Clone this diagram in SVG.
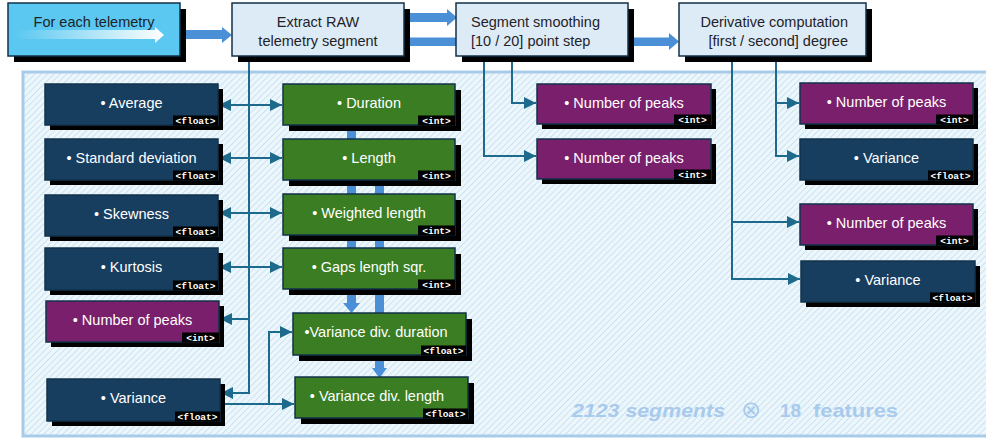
<svg xmlns="http://www.w3.org/2000/svg" width="986" height="438" viewBox="0 0 986 438">
<style>
.bx{stroke:#12324A;stroke-width:1.5}
.sh{fill:#000}
.top{fill:#DDEBF7}
.blue{fill:#173D5F}
.green{fill:#3A7D22}
.purple{fill:#7A1F6B}
.t{font-family:"Liberation Sans",Arial,sans-serif;font-size:14.5px;fill:#fff;text-anchor:middle}
.tt{font-family:"Liberation Sans",Arial,sans-serif;font-size:14.5px;fill:#1f2328}
.tag{fill:#000}
.tg{font-family:"Liberation Mono","DejaVu Sans Mono",monospace;font-size:9.5px;font-weight:bold;fill:#fff;text-anchor:middle}
.thin{fill:none;stroke:#1E6A8C;stroke-width:2}
.thick{fill:#4B8FD6}
.big{font-family:"Liberation Sans",Arial,sans-serif;font-size:19px;font-weight:bold;fill:#A8CAEC}
</style>
<defs>
<pattern id="hatch" patternUnits="userSpaceOnUse" width="4.5" height="4.5" patternTransform="rotate(45)">
<rect width="4.5" height="4.5" fill="#EDF6FB"/>
<line x1="0" y1="0" x2="0" y2="4.5" stroke="#C6E2F2" stroke-width="1.8"/>
</pattern>
<linearGradient id="wg" x1="0" y1="0" x2="1" y2="0">
<stop offset="0" stop-color="#fff" stop-opacity="0"/>
<stop offset="1" stop-color="#fff" stop-opacity="1"/>
</linearGradient>
<marker id="ah" markerUnits="userSpaceOnUse" markerWidth="13" markerHeight="13" refX="12" refY="6.5" orient="auto-start-reverse">
<path d="M0,0.5 L12,6.5 L0,12.5 z" fill="#1E6A8C"/>
</marker>
</defs>

<!-- panel -->
<rect x="23" y="72" width="975" height="364" fill="url(#hatch)" stroke="#A9CBEA" stroke-width="3"/>

<!-- connectors -->
<g id="connectors">
<path class="thick" d="M186,30 H222 V27 L232,35 L222,43 V39 H186 z"/>
<path class="thick" d="M404,13 H447 V9 L457,17.5 L447,26 V22 H404 z"/>
<path class="thick" d="M404,37.5 H669 V33 L679,41.5 L669,50 V46 H404 z"/>
<path class="thick" d="M347,125 H356 V303 H360 L351.5,313 L343,303 H347 z"/>
<path class="thick" d="M375,180 H384 V368 H387 L379.5,378 L372,368 H375 z"/>
<path class="thin" d="M249,57 V393 H221" marker-end="url(#ah)"/>
<line class="thin" x1="219" y1="105" x2="282" y2="105" marker-start="url(#ah)" marker-end="url(#ah)"/>
<line class="thin" x1="219" y1="158" x2="282" y2="158" marker-start="url(#ah)" marker-end="url(#ah)"/>
<line class="thin" x1="219" y1="213" x2="282" y2="213" marker-start="url(#ah)" marker-end="url(#ah)"/>
<line class="thin" x1="219" y1="267" x2="282" y2="267" marker-start="url(#ah)" marker-end="url(#ah)"/>
<path class="thin" d="M249,319 H220" marker-end="url(#ah)"/>
<path class="thin" d="M221,404 H294" marker-end="url(#ah)"/>
<path class="thin" d="M269,404 V332 H292" marker-end="url(#ah)"/>
<path class="thin" d="M512,57 V103 H536" marker-end="url(#ah)"/>
<path class="thin" d="M484,57 V156 H536" marker-end="url(#ah)"/>
<path class="thin" d="M776,57 V156 H799" marker-end="url(#ah)"/>
<path class="thin" d="M776,103 H799" marker-end="url(#ah)"/>
<path class="thin" d="M732,57 V279 H800" marker-end="url(#ah)"/>
<path class="thin" d="M732,222 H799" marker-end="url(#ah)"/>
</g>

<!-- top row -->
<g id="for-each">
<rect class="sh" x="14" y="9" width="172" height="53"/>
<rect class="bx" x="8" y="3" width="172" height="53" fill="#5AC8F0"/>
<path d="M15,30 H155 V27 L164,35 L155,43 V39 H15 z" fill="url(#wg)"/>
<text class="tt" x="94" y="27" text-anchor="middle">For each telemetry</text>
</g>
<g id="extract">
<rect class="sh" x="238" y="9" width="172" height="53"/>
<rect class="bx top" x="232" y="3" width="172" height="53"/>
<text class="tt" x="318" y="27" text-anchor="middle">Extract RAW</text>
<text class="tt" x="318" y="46" text-anchor="middle">telemetry segment</text>
</g>
<g id="smoothing">
<rect class="sh" x="462" y="9" width="172" height="53"/>
<rect class="bx top" x="456" y="3" width="172" height="53"/>
<text class="tt" x="471" y="27">Segment smoothing</text>
<text class="tt" x="471" y="46">[10 / 20] point step</text>
</g>
<g id="derivative">
<rect class="sh" x="685" y="9" width="187" height="53"/>
<rect class="bx top" x="679" y="3" width="187" height="53"/>
<text class="tt" x="848" y="27" text-anchor="end">Derivative computation</text>
<text class="tt" x="848" y="46" text-anchor="end">[first / second] degree</text>
</g>

<!-- left column -->
<g id="average">
<rect class="sh" x="50" y="89" width="173" height="41"/>
<rect class="bx blue" x="45" y="84" width="173" height="41"/>
<text class="t" x="131.5" y="108">• Average</text>
<rect class="tag" x="173" y="115.5" width="45" height="10"/>
<text class="tg" x="195.5" y="123.5">&lt;float&gt;</text>
</g>
<g id="stddev">
<rect class="sh" x="50" y="144" width="173" height="41"/>
<rect class="bx blue" x="45" y="139" width="173" height="41"/>
<text class="t" x="131.5" y="163">• Standard deviation</text>
<rect class="tag" x="173" y="170.5" width="45" height="10"/>
<text class="tg" x="195.5" y="178.5">&lt;float&gt;</text>
</g>
<g id="skewness">
<rect class="sh" x="50" y="200" width="173" height="41"/>
<rect class="bx blue" x="45" y="195" width="173" height="41"/>
<text class="t" x="131.5" y="219">• Skewness</text>
<rect class="tag" x="173" y="226.5" width="45" height="10"/>
<text class="tg" x="195.5" y="234.5">&lt;float&gt;</text>
</g>
<g id="kurtosis">
<rect class="sh" x="50" y="253" width="173" height="42"/>
<rect class="bx blue" x="45" y="248" width="173" height="42"/>
<text class="t" x="131.5" y="272">• Kurtosis</text>
<rect class="tag" x="173" y="280.5" width="45" height="10"/>
<text class="tg" x="195.5" y="288.5">&lt;float&gt;</text>
</g>
<g id="peaks-left">
<rect class="sh" x="51" y="306" width="173" height="41"/>
<rect class="bx purple" x="46" y="301" width="173" height="41"/>
<text class="t" x="132.5" y="325">• Number of peaks</text>
<rect class="tag" x="182" y="332.5" width="37" height="10"/>
<text class="tg" x="200.5" y="340.5">&lt;int&gt;</text>
</g>
<g id="variance-left">
<rect class="sh" x="52" y="384" width="173" height="42"/>
<rect class="bx blue" x="47" y="379" width="173" height="42"/>
<text class="t" x="133.5" y="403">• Variance</text>
<rect class="tag" x="175" y="411.5" width="45" height="10"/>
<text class="tg" x="197.5" y="419.5">&lt;float&gt;</text>
</g>

<!-- green column -->
<g id="duration">
<rect class="sh" x="289" y="90" width="172" height="41"/>
<rect class="bx green" x="283" y="84" width="172" height="41"/>
<text class="t" x="369" y="108">• Duration</text>
<rect class="tag" x="418" y="115.5" width="37" height="10"/>
<text class="tg" x="436.5" y="123.5">&lt;int&gt;</text>
</g>
<g id="length">
<rect class="sh" x="289" y="145" width="172" height="41"/>
<rect class="bx green" x="283" y="139" width="172" height="41"/>
<text class="t" x="369" y="163">• Length</text>
<rect class="tag" x="418" y="170.5" width="37" height="10"/>
<text class="tg" x="436.5" y="178.5">&lt;int&gt;</text>
</g>
<g id="weighted-length">
<rect class="sh" x="289" y="200" width="172" height="41"/>
<rect class="bx green" x="283" y="194" width="172" height="41"/>
<text class="t" x="369" y="218">• Weighted length</text>
<rect class="tag" x="418" y="225.5" width="37" height="10"/>
<text class="tg" x="436.5" y="233.5">&lt;int&gt;</text>
</g>
<g id="gaps">
<rect class="sh" x="289" y="254" width="172" height="41"/>
<rect class="bx green" x="283" y="248" width="172" height="41"/>
<text class="t" x="369" y="272">• Gaps length sqr.</text>
<rect class="tag" x="418" y="279.5" width="37" height="10"/>
<text class="tg" x="436.5" y="287.5">&lt;int&gt;</text>
</g>
<g id="var-div-duration">
<rect class="sh" x="299" y="319" width="173" height="42"/>
<rect class="bx green" x="293" y="313" width="173" height="42"/>
<text class="t" x="376" y="337">•Variance div. duration</text>
<rect class="tag" x="421" y="345.5" width="45" height="10"/>
<text class="tg" x="443.5" y="353.5">&lt;float&gt;</text>
</g>
<g id="var-div-length">
<rect class="sh" x="301" y="383" width="173" height="41"/>
<rect class="bx green" x="295" y="377" width="173" height="41"/>
<text class="t" x="377" y="401">• Variance div. length</text>
<rect class="tag" x="423" y="408.5" width="45" height="10"/>
<text class="tg" x="445.5" y="416.5">&lt;float&gt;</text>
</g>

<!-- middle purple -->
<g id="peaks-smooth-1">
<rect class="sh" x="542" y="89" width="174" height="40"/>
<rect class="bx purple" x="537" y="84" width="174" height="40"/>
<text class="t" x="624" y="108">• Number of peaks</text>
<rect class="tag" x="674" y="114.5" width="37" height="10"/>
<text class="tg" x="692.5" y="122.5">&lt;int&gt;</text>
</g>
<g id="peaks-smooth-2">
<rect class="sh" x="542" y="144" width="174" height="40"/>
<rect class="bx purple" x="537" y="139" width="174" height="40"/>
<text class="t" x="624" y="163">• Number of peaks</text>
<rect class="tag" x="674" y="169.5" width="37" height="10"/>
<text class="tg" x="692.5" y="177.5">&lt;int&gt;</text>
</g>

<!-- right column -->
<g id="peaks-deriv-1">
<rect class="sh" x="805" y="88" width="173" height="41"/>
<rect class="bx purple" x="800" y="83" width="173" height="41"/>
<text class="t" x="886.5" y="107">• Number of peaks</text>
<rect class="tag" x="936" y="114.5" width="37" height="10"/>
<text class="tg" x="954.5" y="122.5">&lt;int&gt;</text>
</g>
<g id="variance-deriv-1">
<rect class="sh" x="805" y="144" width="173" height="41"/>
<rect class="bx blue" x="800" y="139" width="173" height="41"/>
<text class="t" x="886.5" y="163">• Variance</text>
<rect class="tag" x="928" y="170.5" width="45" height="10"/>
<text class="tg" x="950.5" y="178.5">&lt;float&gt;</text>
</g>
<g id="peaks-deriv-2">
<rect class="sh" x="805" y="209" width="173" height="41"/>
<rect class="bx purple" x="800" y="204" width="173" height="41"/>
<text class="t" x="886.5" y="228">• Number of peaks</text>
<rect class="tag" x="936" y="235.5" width="37" height="10"/>
<text class="tg" x="954.5" y="243.5">&lt;int&gt;</text>
</g>
<g id="variance-deriv-2">
<rect class="sh" x="806" y="266" width="174" height="41"/>
<rect class="bx blue" x="801" y="261" width="174" height="41"/>
<text class="t" x="888" y="285">• Variance</text>
<rect class="tag" x="930" y="292.5" width="45" height="10"/>
<text class="tg" x="952.5" y="300.5">&lt;float&gt;</text>
</g>

<!-- caption -->
<text class="big" x="572" y="417" font-style="italic" textLength="153" lengthAdjust="spacingAndGlyphs">2123 segments</text>
<text class="big" x="751" y="418" style="font-weight:normal;font-size:24px;font-family:'DejaVu Sans',sans-serif" text-anchor="middle">⊗</text>
<text class="big" x="780" y="417">18</text>
<text class="big" x="813" y="417" textLength="85" lengthAdjust="spacingAndGlyphs">features</text>
</svg>
